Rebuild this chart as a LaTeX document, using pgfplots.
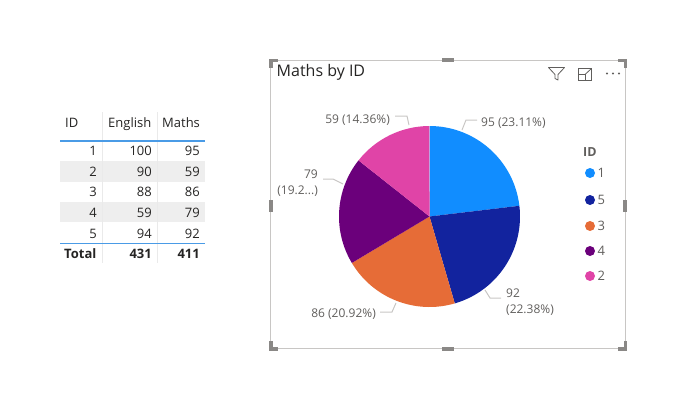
\documentclass[border=0pt]{standalone}
\usepackage{pgfplots}
\pgfplotsset{compat=1.18}
\usepackage{pgfplotstable}
\usepackage{fontspec}
\setmainfont{Open Sans}
\definecolor{pbA}{HTML}{118DFF}
\definecolor{pbB}{HTML}{12239E}
\definecolor{pbC}{HTML}{E66C37}
\definecolor{pbD}{HTML}{6B007B}
\definecolor{pbE}{HTML}{E044A7}
\definecolor{txt}{HTML}{252423}
\definecolor{lbl}{HTML}{605E5C}
\definecolor{brd}{HTML}{C8C6C4}
\definecolor{hdl}{HTML}{8A8886}
\definecolor{band}{HTML}{EEEEEE}
\definecolor{vln}{HTML}{EAEAEA}
\definecolor{tblue}{HTML}{4A9BE6}

\pgfplotstableread{
id value color
1 95 pbA
5 92 pbB
3 86 pbC
4 79 pbD
2 59 pbE
}\mathsdata

\begin{document}
\begin{tikzpicture}
\path[use as bounding box] (0,0) rectangle (682pt,416pt);
% angles of the slices from the data
\xdef\total{0}
\foreach \i in {0,...,4}{%
  \pgfplotstablegetelem{\i}{value}\of\mathsdata
  \pgfmathparse{\total+\pgfplotsretval}\xdef\total{\pgfmathresult}}
\xdef\cum{90}
\foreach \i in {0,...,4}{%
  \pgfplotstablegetelem{\i}{value}\of\mathsdata
  \pgfmathparse{\cum-\pgfplotsretval/\total*360}\let\nb\pgfmathresult
  \expandafter\xdef\csname sa\i\endcsname{\cum}%
  \expandafter\xdef\csname ea\i\endcsname{\nb}%
  \pgfplotstablegetelem{\i}{color}\of\mathsdata
  \expandafter\xdef\csname col\i\endcsname{\pgfplotsretval}%
  \xdef\cum{\nb}}

\begin{axis}[at={(429.5pt,199.5pt)}, anchor=center, hide axis,
  x=90.5pt, y=90.5pt, xmin=-1, xmax=1, ymin=-1, ymax=1, clip=false]
\pgfplotsinvokeforeach{0,...,4}{
  \fill[fill=\csname col#1\endcsname] (axis cs:0,0) -- ++(\csname sa#1\endcsname:90.5pt)
    arc[start angle=\csname sa#1\endcsname, end angle=\csname ea#1\endcsname, radius=90.5pt] -- cycle;
}
\end{axis}

\begin{scope}[x=1pt,y=-1pt,yshift=416pt]
% ---------- table ----------
\fill[band] (60,161) rectangle (205,182);
\fill[band] (60,202) rectangle (205,222);
\draw[vln, line width=0.8pt] (102,112)--(102,263);
\draw[vln, line width=0.8pt] (157,112)--(157,263);
\draw[tblue, line width=1.5pt] (60,141)--(205,141);
\draw[tblue, line width=1.5pt] (60,243.5)--(205,243.5);
\begin{scope}[every node/.style={inner sep=0pt, text=txt, font=\fontsize{13}{15}\selectfont}]
\node[anchor=base west] at (65,127.7) {ID};
\node[anchor=base west] at (108,127.7) {English};
\node[anchor=base west] at (162,127.7) {Maths};
\node[anchor=base east] at (97,155.7) {1};
\node[anchor=base east] at (152,155.7) {100};
\node[anchor=base east] at (200,155.7) {95};
\node[anchor=base east] at (97,176.7) {2};
\node[anchor=base east] at (152,176.7) {90};
\node[anchor=base east] at (200,176.7) {59};
\node[anchor=base east] at (97,196.7) {3};
\node[anchor=base east] at (152,196.7) {88};
\node[anchor=base east] at (200,196.7) {86};
\node[anchor=base east] at (97,217.7) {4};
\node[anchor=base east] at (152,217.7) {59};
\node[anchor=base east] at (200,217.7) {79};
\node[anchor=base east] at (97,238.7) {5};
\node[anchor=base east] at (152,238.7) {94};
\node[anchor=base east] at (200,238.7) {92};
\node[anchor=base west, font=\fontsize{13}{15}\selectfont\bfseries] at (64,258.7) {Total};
\node[anchor=base east, font=\fontsize{13}{15}\selectfont\bfseries] at (152,258.7) {431};
\node[anchor=base east, font=\fontsize{13}{15}\selectfont\bfseries] at (200,258.7) {411};
\end{scope}

% ---------- visual frame ----------
\draw[brd, line width=1pt] (270.7,60.5) rectangle (625.5,348.8);
\fill[hdl] (269,59) rectangle (278,62.5);
\fill[hdl] (269,59) rectangle (272.5,68);
\fill[hdl] (618,59) rectangle (627,62.5);
\fill[hdl] (623.5,59) rectangle (627,68);
\fill[hdl] (269,347) rectangle (278,350.5);
\fill[hdl] (269,341) rectangle (272.5,350.5);
\fill[hdl] (618,347) rectangle (627,350.5);
\fill[hdl] (623.5,341) rectangle (627,350.5);
\fill[hdl] (442,58.5) rectangle (454,62.5);
\fill[hdl] (442,347) rectangle (454,351);
\fill[hdl] (269,200) rectangle (273,212);
\fill[hdl] (623,200) rectangle (627,212);

% title and header icons
\node[anchor=base west, inner sep=0pt, text=txt, font=\fontsize{16}{19}\selectfont] at (276.5,76) {Maths by ID};
\draw[lbl, line width=0.8pt, line join=round] (548.5,67.5)--(564.5,67.5)--(558,74.5)--(558,80)--(555,78.5)--(555,74.5)--cycle;
\draw[lbl, line width=0.8pt] (578.5,68.5) rectangle (591.5,80.5);
\draw[lbl, line width=0.8pt] (578.5,74.5)--(585,74.5)--(585,80.5);
\draw[lbl, line width=0.8pt] (585,74.5)--(591.5,68.5);
\fill[lbl] (607,73.5) circle (1.1pt);
\fill[lbl] (613,73.5) circle (1.1pt);
\fill[lbl] (619,73.5) circle (1.1pt);

% ---------- data labels ----------
\begin{scope}[every node/.style={inner sep=0pt, text=lbl, font=\fontsize{12}{14}\selectfont}]
\draw[brd, line width=1pt] (462,130)--(466,120)--(477,120);
\node[anchor=base west] at (481,126.3) {95 (23.11\%)};
\draw[brd, line width=1pt] (485,290)--(490,298)--(501,298);
\node[anchor=base west] at (506,297.3) {92};
\node[anchor=base west] at (506,313.3) {(22.38\%)};
\draw[brd, line width=1pt] (380,312)--(392,312)--(396,303);
\node[anchor=base east] at (376,317.3) {86 (20.92\%)};
\draw[brd, line width=1pt] (395,116)--(407,116)--(409,125);
\node[anchor=base east] at (390,123.3) {59 (14.36\%)};
\draw[brd, line width=1pt] (323,179)--(333,179)--(343,184);
\node[anchor=base east] at (318,178.3) {79};
\node[anchor=base east] at (318,194.3) {(19.2...)};
\end{scope}

% ---------- legend ----------
\node[anchor=base west, inner sep=0pt, text=lbl, font=\fontsize{12.5}{15}\selectfont\bfseries] at (583,156.5) {ID};
\begin{scope}[every node/.style={anchor=base west, inner sep=0pt, text=lbl, font=\fontsize{13}{15}\selectfont}]
\fill[pbA] (590,173) circle (5pt); \node at (597.5,177.6) {1};
\fill[pbB] (590,200) circle (5pt); \node at (597.5,204.6) {5};
\fill[pbC] (590,226) circle (5pt); \node at (597.5,230.6) {3};
\fill[pbD] (590,251) circle (5pt); \node at (597.5,255.6) {4};
\fill[pbE] (590,276) circle (5pt); \node at (597.5,280.6) {2};
\end{scope}
\end{scope}
\end{tikzpicture}
\end{document}
